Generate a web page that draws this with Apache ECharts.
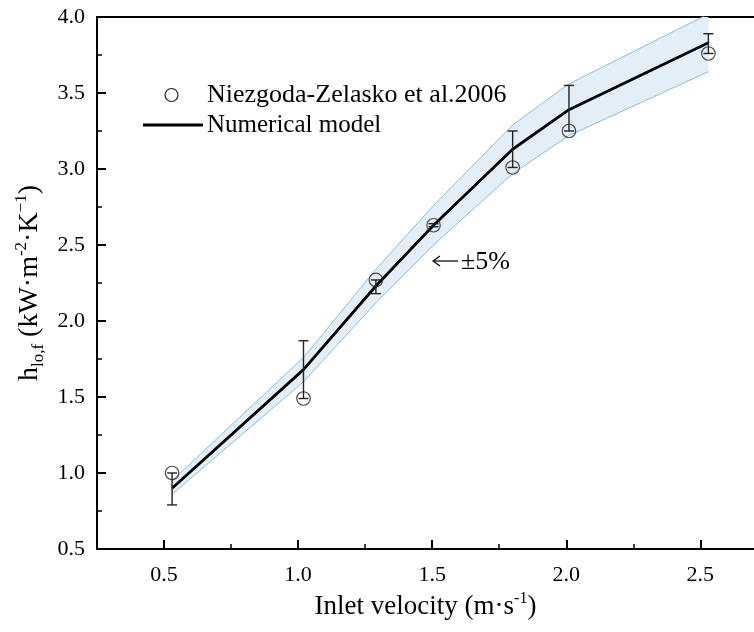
<!DOCTYPE html>
<html>
<head>
<meta charset="utf-8">
<script src="https://cdn.jsdelivr.net/npm/echarts@6/dist/echarts.min.js"></script>
<style>html,body{margin:0;padding:0;background:#fff}#c{width:754px;height:632px}</style>
</head>
<body>
<div id="c"></div>
<script>
// ---- data ----
var expX = [0.53, 1.02, 1.29, 1.505, 1.80, 2.01, 2.53];
var expY = [1.00, 1.49, 2.27, 2.63, 3.01, 3.25, 3.76];
var errLow = [0.79, 1.49, 2.18, 2.62, 3.01, 3.25, 3.76];
var errHigh = [1.00, 1.87, 2.27, 2.64, 3.25, 3.55, 3.89];
var modelX = [0.53, 1.02, 1.29, 1.505, 1.80, 2.01, 2.53];
var modelY = [0.90, 1.68, 2.23, 2.63, 3.13, 3.39, 3.83];
var bandUpper = [0.95, 1.76, 2.34, 2.76, 3.29, 3.56, 4.02];
var bandLower = [0.86, 1.60, 2.12, 2.50, 2.97, 3.22, 3.64];
var xTickLabels = [0.5, 1.0, 1.5, 2.0, 2.5];
var xMinorTicks = [0.75, 1.25, 1.75, 2.25];
var yTickLabels = [0.5, 1.0, 1.5, 2.0, 2.5, 3.0, 3.5, 4.0];
var legendNames = ['Niezgoda-Zelasko et al.2006', 'Numerical model'];
var bandLabel = '±5%';

var FONT = "'Liberation Serif', 'Times New Roman', serif";
var chart = echarts.init(document.getElementById('c'), null, {renderer: 'canvas'});

function pairs(xs, ys) { return xs.map(function (x, i) { return [x, ys[i]]; }); }

var XMIN = 0.25, XMAX = 2.70;

var option = {
  animation: false,
  backgroundColor: '#fff',
  grid: {left: 97, top: 17, right: 0, bottom: 83, outerBoundsMode: 'none', show: false},
  xAxis: [{
    type: 'value', min: XMIN, max: XMAX, position: 'bottom',
    axisLine: {show: true, lineStyle: {color: '#000', width: 2}},
    splitLine: {show: false},
    axisTick: {show: true, inside: true, length: 9, lineStyle: {color: '#000', width: 2}, customValues: xTickLabels},
    axisLabel: {show: true, customValues: xTickLabels, margin: 15, color: '#000', fontFamily: FONT, fontSize: 22,
      formatter: function (v) { return v.toFixed(1); }},
    name: 'Inlet velocity (m·s{sup|-1})', nameLocation: 'middle', nameGap: 40,
    nameTextStyle: {color: '#000', fontFamily: FONT, fontSize: 27, lineHeight: 32,
      rich: {sup: {fontSize: 16, lineHeight: 14, verticalAlign: 'top', fontFamily: FONT, color: '#000'}}}
  }, {
    type: 'value', min: XMIN, max: XMAX, position: 'bottom', gridIndex: 0,
    axisLine: {show: false}, splitLine: {show: false}, axisLabel: {show: false},
    axisTick: {show: true, inside: true, length: 5, lineStyle: {color: '#000', width: 1.5}, customValues: xMinorTicks}
  }, {
    type: 'value', min: XMIN, max: XMAX, position: 'top', gridIndex: 0,
    axisLine: {show: true, lineStyle: {color: '#000', width: 2}},
    splitLine: {show: false}, axisLabel: {show: false}, axisTick: {show: false}
  }],
  yAxis: {
    type: 'value', min: 0.5, max: 4.0, interval: 0.5,
    axisLine: {show: true, lineStyle: {color: '#000', width: 2}},
    splitLine: {show: false},
    axisTick: {show: true, inside: true, length: 9, lineStyle: {color: '#000', width: 2}},
    minorTick: {show: true, splitNumber: 2, length: 5, lineStyle: {color: '#000', width: 1.5}},
    axisLabel: {margin: 12, color: '#000', fontFamily: FONT, fontSize: 22,
      formatter: function (v) { return v.toFixed(1); }},
    name: 'h{sub|lo,f} (kW·m{sup|-2}·K{sup|−1})', nameLocation: 'middle', nameGap: 48,
    nameTextStyle: {color: '#000', fontFamily: FONT, fontSize: 28, lineHeight: 34,
      rich: {
        sup: {fontSize: 17, lineHeight: 15, verticalAlign: 'top', fontFamily: FONT, color: '#000'},
        sub: {fontSize: 17, lineHeight: 13, verticalAlign: 'bottom', fontFamily: FONT, color: '#000'}
      }}
  },
  series: [
    {
      type: 'custom', name: 'band', coordinateSystem: 'cartesian2d', xAxisIndex: 0, clip: true, z: 1,
      data: modelX.map(function (x, i) { return [x, bandLower[i], bandUpper[i]]; }),
      encode: {x: 0, y: [1, 2]},
      renderItem: function (params, api) {
        if (params.dataIndex !== 0) return null;
        var pts = [];
        for (var i = 0; i < modelX.length; i++) pts.push(api.coord([modelX[i], bandUpper[i]]));
        for (var j = modelX.length - 1; j >= 0; j--) pts.push(api.coord([modelX[j], bandLower[j]]));
        return {type: 'polygon', shape: {points: pts}, style: {fill: '#e4eef7', stroke: null}};
      }
    },
    {type: 'line', data: pairs(modelX, bandUpper), symbol: 'none', z: 2, xAxisIndex: 0,
      lineStyle: {color: '#8dbde0', width: 1}},
    {type: 'line', data: pairs(modelX, bandLower), symbol: 'none', z: 2, xAxisIndex: 0,
      lineStyle: {color: '#8dbde0', width: 1}},
    {type: 'line', name: legendNames[1], data: pairs(modelX, modelY), symbol: 'none', z: 3, xAxisIndex: 0,
      lineStyle: {color: '#000', width: 2.8}},
    {
      type: 'custom', name: 'err', coordinateSystem: 'cartesian2d', xAxisIndex: 0, z: 4,
      data: expX.map(function (x, i) { return [x, errLow[i], errHigh[i]]; }),
      encode: {x: 0, y: [1, 2]},
      renderItem: function (params, api) {
        var lo = api.coord([api.value(0), api.value(1)]);
        var hi = api.coord([api.value(0), api.value(2)]);
        var w = 5;
        var st = {stroke: '#222', lineWidth: 1.4};
        return {type: 'group', children: [
          {type: 'line', shape: {x1: lo[0], y1: lo[1], x2: hi[0], y2: hi[1]}, style: st},
          {type: 'line', shape: {x1: lo[0] - w, y1: lo[1], x2: lo[0] + w, y2: lo[1]}, style: st},
          {type: 'line', shape: {x1: hi[0] - w, y1: hi[1], x2: hi[0] + w, y2: hi[1]}, style: st}
        ]};
      }
    },
    {type: 'scatter', name: legendNames[0], data: pairs(expX, expY), symbol: 'circle', symbolSize: 13.5, z: 5, xAxisIndex: 0,
      itemStyle: {color: 'rgba(0,0,0,0)', borderColor: '#222', borderWidth: 1.2}}
  ],
  graphic: [
    {type: 'circle', shape: {cx: 171.5, cy: 95, r: 6.5}, style: {fill: 'none', stroke: '#222', lineWidth: 1.2}, z: 10},
    {type: 'text', x: 207, y: 95, style: {text: legendNames[0], font: '26px ' + FONT, fill: '#000', textVerticalAlign: 'middle'}, z: 10},
    {type: 'line', shape: {x1: 143, y1: 125, x2: 203, y2: 125}, style: {stroke: '#000', lineWidth: 2.8}, z: 10},
    {type: 'text', x: 207, y: 125, style: {text: legendNames[1], font: '25px ' + FONT, fill: '#000', textVerticalAlign: 'middle'}, z: 10},
    {type: 'line', shape: {x1: 433, y1: 261, x2: 458, y2: 261}, style: {stroke: '#000', lineWidth: 1.2}, z: 10},
    {type: 'polyline', shape: {points: [[440, 256], [433, 261], [440, 266]]}, style: {stroke: '#000', lineWidth: 1.2, fill: null}, z: 10},
    {type: 'text', x: 461, y: 262, style: {text: bandLabel, font: '26px ' + FONT, fill: '#000', textVerticalAlign: 'middle'}, z: 10}
  ]
};
chart.setOption(option);
</script>
</body>
</html>
